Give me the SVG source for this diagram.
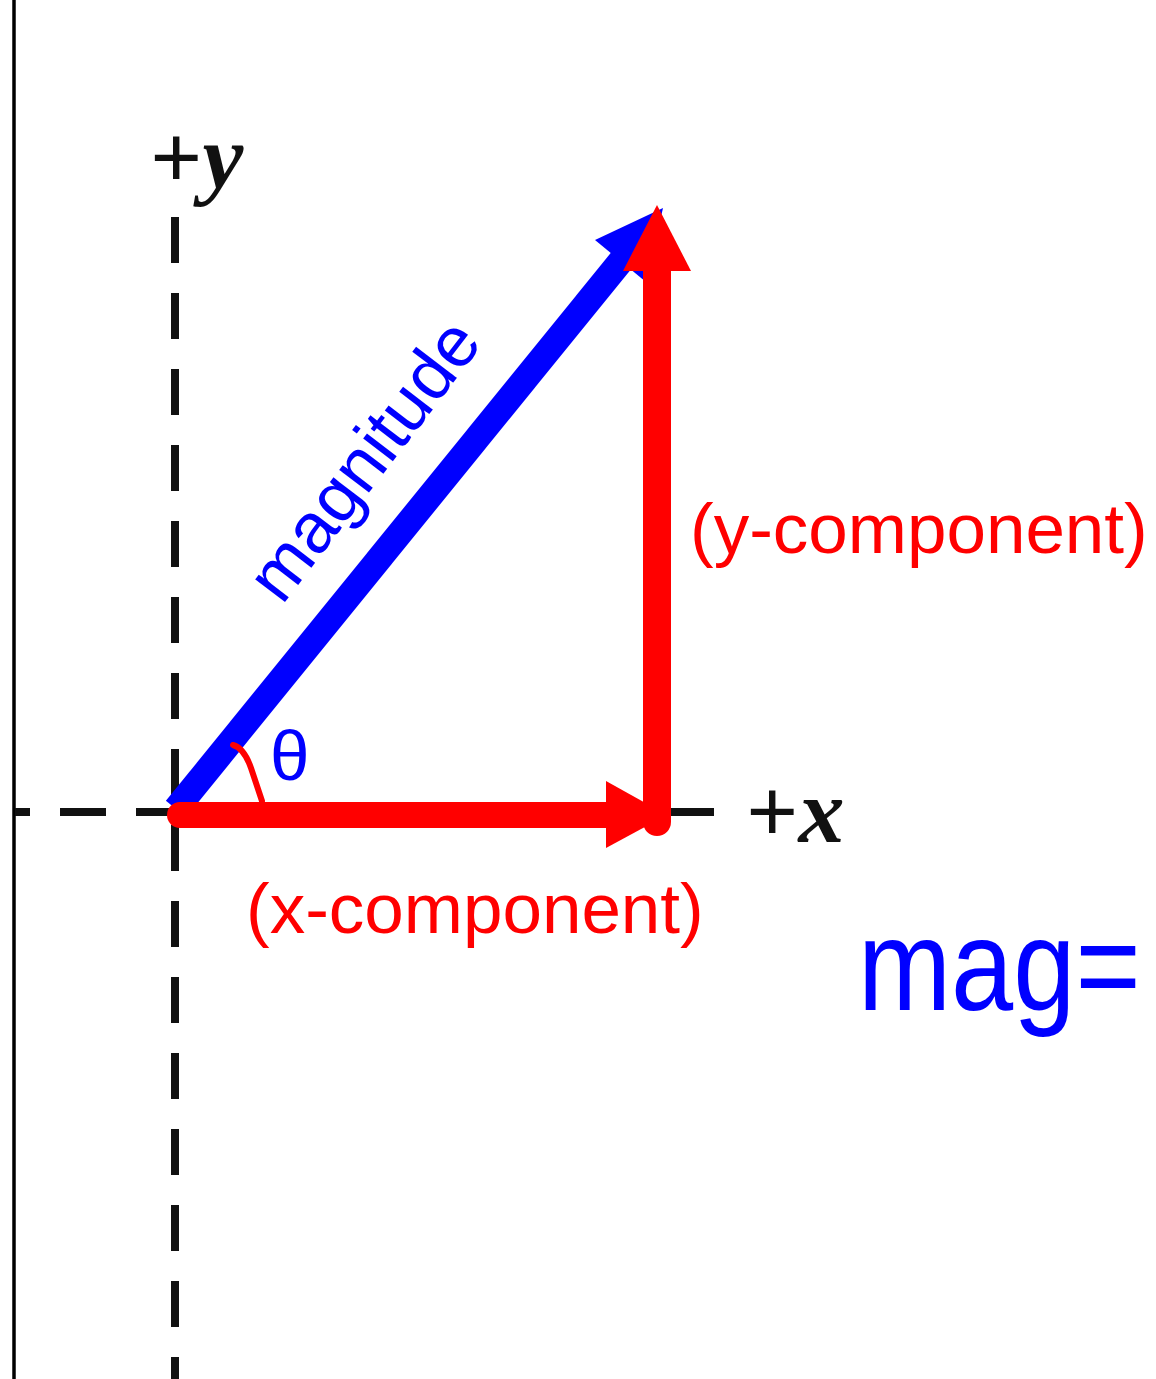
<svg xmlns="http://www.w3.org/2000/svg" width="1156" height="1379" viewBox="0 0 1156 1379">
<style>
.axis{stroke:#111;stroke-width:8;stroke-dasharray:46 30;fill:none}
.lbl{font-family:"Liberation Sans",Arial,sans-serif;font-size:71px}
.red{fill:#ff0000}
.blue{fill:#0000ff}
.ax{font-family:"Liberation Serif","Times New Roman",serif;font-size:92px;fill:#111;font-weight:bold}
</style>
<rect width="1156" height="1379" fill="#ffffff"/>
<g id="frame"><line x1="14" y1="0" x2="14" y2="1379" stroke="#000" stroke-width="3.5"/></g>
<g id="axes">
<line class="axis" x1="175" y1="217" x2="175" y2="1379"/>
<line class="axis" x1="15" y1="812" x2="714" y2="812" stroke-dashoffset="31"/>
<text class="ax" x="150" y="188">+<tspan font-style="italic">y</tspan></text>
<text class="ax" x="746" y="842">+<tspan font-style="italic">x</tspan></text>
</g>
<g id="connectors">
<g id="magnitude-vector">
<line x1="176" y1="809" x2="625" y2="256" stroke="#0000ff" stroke-width="26"/>
<polygon class="blue" points="663,208 595,240 646,282"/>
</g>
<g id="x-component-vector">
<line x1="180" y1="815" x2="620" y2="815" stroke="#ff0000" stroke-width="26" stroke-linecap="round"/>
<polygon class="red" points="606,781 606,848 667,815"/>
</g>
<g id="y-component-vector">
<line x1="657" y1="268" x2="657" y2="822" stroke="#ff0000" stroke-width="28" stroke-linecap="round"/>
<polygon class="red" points="657,205 623,271 691,271"/>
</g>
<path id="angle-arc" d="M233,745 Q244,748 251,768 L262,801" fill="none" stroke="#ff0000" stroke-width="6" stroke-linecap="round"/>
</g>
<g id="labels">
<text class="lbl blue" transform="translate(282,606) rotate(-52.5)" font-size="68">magnitude</text>
<text class="lbl blue" x="270" y="780">θ</text>
<text class="lbl red" x="690" y="553">(y-component)</text>
<text class="lbl red" x="246" y="933">(x-component)</text>
<text class="blue" transform="translate(858,1010) scale(0.86,1)" font-family="'Liberation Sans',Arial,sans-serif" font-size="130">mag=</text>
</g>
</svg>
